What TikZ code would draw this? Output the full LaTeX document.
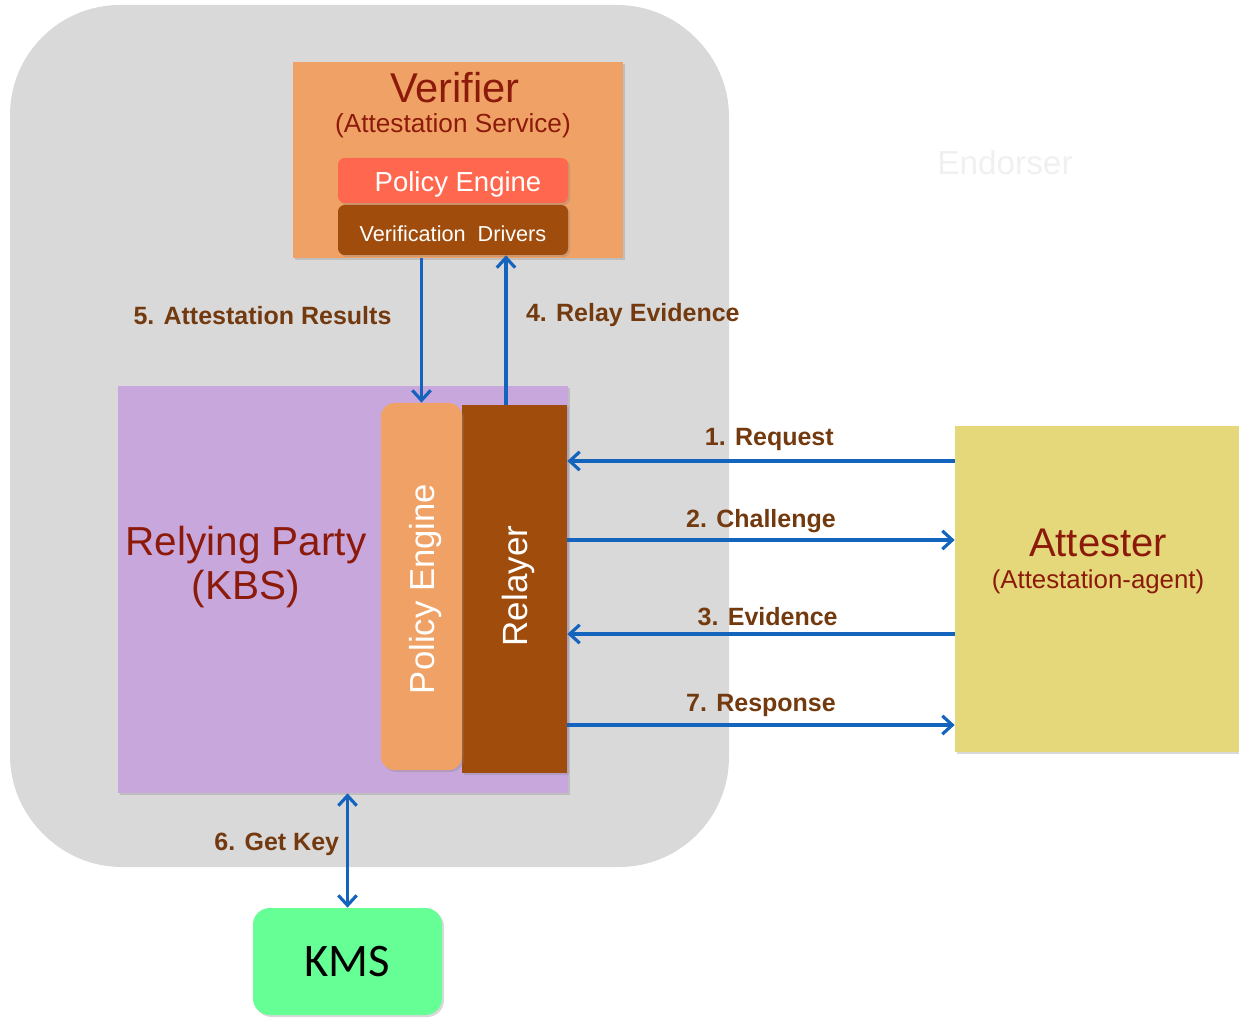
\documentclass[tikz,border=0pt]{standalone}
\usepackage{fontspec}
\setmainfont{Liberation Sans}
\newfontfamily\kmsfont{Carlito}
\usepackage{xcolor}
\definecolor{encl}{RGB}{217,217,217}
\definecolor{verif}{RGB}{240,162,102}
\definecolor{polred}{RGB}{255,104,78}
\definecolor{brownbox}{RGB}{160,76,12}
\definecolor{rpurple}{RGB}{200,168,220}
\definecolor{attest}{RGB}{229,216,122}
\definecolor{kmsgreen}{RGB}{102,255,150}
\definecolor{darkred}{RGB}{140,26,10}
\definecolor{lblbrown}{RGB}{115,58,15}
\definecolor{arrowblue}{RGB}{20,100,190}
\usetikzlibrary{arrows.meta,positioning,shadows}
\newcommand\pu{0.6pt}
\tikzset{
  box/.style={inner sep=0pt,draw=none,%
    drop shadow={shadow xshift=1.2pt,shadow yshift=-1.2pt,opacity=0.3}},
  title/.style={text=darkred,inner sep=0pt,align=center},
  sub/.style={text=white,inner sep=0pt},
  barb/.tip={Straight Barb[length=6pt,width=11pt,line width=1.9pt]},
  flow/.style={-barb,line width=2.1pt,draw=arrowblue},
  msg/.style={text=lblbrown,font=\fontsize{15}{17}\selectfont\bfseries,inner sep=2pt},
}

\begin{document}
\begin{tikzpicture}[x=\pu,y=-\pu]
\useasboundingbox (0,0) rectangle (1239,1018);
% enclave
\node[box,fill=encl,rounded corners=110*\pu,minimum width=717*\pu,minimum height=860*\pu] (enc) at (368.5,435) {};
\node[text=black!6,font=\fontsize{20}{22}\selectfont] (endorser) at (1005,163) {Endorser};
% verifier
\node[box,fill=verif,minimum width=330*\pu,minimum height=196*\pu] (verifier) at (458,160) {};
\node[title,font=\fontsize{25}{28}\selectfont] (vt) at (455,88) {Verifier};
\node[title,font=\fontsize{15.7}{18}\selectfont] (vs) at (453,126) {(Attestation Service)};
\node[box,fill=polred,rounded corners=4pt,minimum width=230*\pu,minimum height=45*\pu] (vpe) at (453,180.5) {};
\node[sub,font=\fontsize{16.5}{19}\selectfont] at (458,184) {Policy Engine};
\node[box,fill=brownbox,rounded corners=4pt,minimum width=230*\pu,minimum height=50*\pu] (vdrv) at (453,230) {};
\node[sub,font=\fontsize{13}{15}\selectfont] at (453,234) {Verification\ \ Drivers};
% relying party
\node[box,fill=rpurple,minimum width=450*\pu,minimum height=407*\pu] (rp) at (343,589.5) {};
\node[title,font=\fontsize{24.3}{26}\selectfont] (rpt) at (246,545) {Relying Party};
\node[title,font=\fontsize{24.3}{26}\selectfont] (rps) at (246,589) {(KBS)};
\node[box,fill=brownbox,minimum width=105*\pu,minimum height=368*\pu] (relayer) at (514.5,589) {};
\node[sub,rotate=90,font=\fontsize{21}{23}\selectfont] at (518,586) {Relayer};
\node[box,fill=verif,rounded corners=8pt,minimum width=81*\pu,minimum height=367*\pu] (rpe) at (421.5,586.5) {};
\node[sub,rotate=90,font=\fontsize{20.8}{22}\selectfont] at (426,589) {Policy Engine};
% attester
\node[box,fill=attest,minimum width=284*\pu,minimum height=326*\pu] (attester) at (1097,589) {};
\node[title,font=\fontsize{24}{26}\selectfont] (at) at (1098,543) {Attester};
\node[title,font=\fontsize{15.5}{18}\selectfont] (as) at (1098,582) {(Attestation-agent)};
% kms
\node[box,fill=kmsgreen,rounded corners=10pt,minimum width=189*\pu,minimum height=107*\pu,%
  font=\kmsfont\fontsize{28}{30}\selectfont] (kms) at (347.5,961.5) {KMS};

% connectors
\draw[flow] (rpe.north |- verifier.south) -- node[msg,pos=0.4,left=15pt]{5. Attestation Results} (rpe.north);
\draw[flow] ([xshift=-8.5*\pu]relayer.north) -- node[msg,pos=0.6,right=9pt]{4. Relay Evidence} ([xshift=-8.5*\pu]relayer.north |- vdrv.south);
\draw[flow] (attester.west |- 0,461) -- node[msg,above=3pt,xshift=5pt]{1. Request} (relayer.east |- 0,461);
\draw[flow] (relayer.east |- 0,540) -- node[msg,above=1pt]{2. Challenge} (attester.west |- 0,540);
\draw[flow] (attester.west |- 0,634) -- node[msg,above=2pt,xshift=4pt]{3. Evidence} (relayer.east |- 0,634);
\draw[flow] (relayer.east |- 0,725) -- node[msg,above=2pt]{7. Response} (attester.west |- 0,725);
\draw[flow,barb-barb] (rp.south -| kms.north) -- node[msg,pos=0.45,left=2pt]{6. Get Key} (kms.north);
\end{tikzpicture}
\end{document}
